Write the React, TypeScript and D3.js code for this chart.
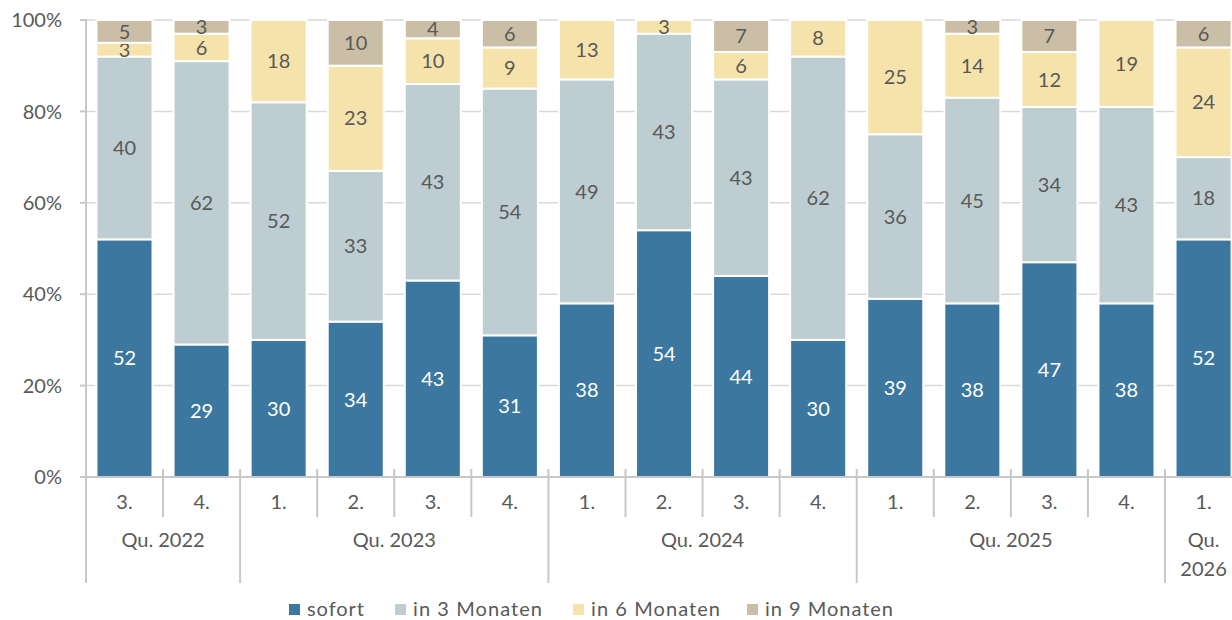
import React from "react";
import * as d3 from "d3";

const quarters = ["3.", "4.", "1.", "2.", "3.", "4.", "1.", "2.", "3.", "4.", "1.", "2.", "3.", "4.", "1."];
const years = ["2022", "2022", "2023", "2023", "2023", "2023", "2024", "2024", "2024", "2024", "2025", "2025", "2025", "2025", "2026"];
const seriesNames = ["sofort", "in 3 Monaten", "in 6 Monaten", "in 9 Monaten"];
const sofort = [52, 29, 30, 34, 43, 31, 38, 54, 44, 30, 39, 38, 47, 38, 52];
const in3 = [40, 62, 52, 33, 43, 54, 49, 43, 43, 62, 36, 45, 34, 43, 18];
const in6 = [3, 6, 18, 23, 10, 9, 13, 3, 6, 8, 25, 14, 12, 19, 24];
const in9 = [5, 3, 0, 10, 4, 6, 0, 0, 7, 0, 0, 3, 7, 0, 6];
const yTicks = [0, 20, 40, 60, 80, 100];
const colors = ["#3c77a0", "#bdcdd2", "#f6e3ab", "#cabfa6"];
const labelColors = ["#ffffff", "#595959", "#595959", "#595959"];

const W = 1232, H = 620;
const left = 86, step = 77.07;
const right = left + step * quarters.length;
const top = 20, bottom = 477;
const font = "Lato, Open Sans, sans-serif";
const txt = "#595959";
const fs = 20;

export default function App() {
  const idx = quarters.map((_, i) => String(i));
  const x = d3.scaleBand<string>().domain(idx).range([left, right]).paddingInner(0.273).paddingOuter(0.136);
  const y = d3.scaleLinear().domain([0, 100]).range([bottom, top]);
  const rows = quarters.map((q, i) => ({ key: String(i), s0: sofort[i], s1: in3[i], s2: in6[i], s3: in9[i] }));
  const stack = d3.stack<any>().keys(["s0", "s1", "s2", "s3"]);
  const layers = stack(rows);

  const groups: { year: string; start: number; end: number }[] = [];
  years.forEach((yr, i) => {
    const g = groups[groups.length - 1];
    if (g && g.year === yr) g.end = i;
    else groups.push({ year: yr, start: i, end: i });
  });
  const bstep = x.step();
  const bandLeft = (i: number) => (x(String(i)) as number) - (bstep - x.bandwidth()) / 2;

  const legendX = [289, 395, 573, 747];
  const legendW = [57, 129, 129, 128];

  return (
    <svg width={W} height={H} style={{ position: "absolute", left: 0, top: 0, background: "#fff" }} fontFamily={font}>
      {yTicks.filter(t => t > 0).map(t => (
        <line key={t} x1={left} x2={W} y1={y(t)} y2={y(t)} stroke="#d9d9d9" strokeWidth={1.5} />
      ))}
      {layers.map((layer, li) => (
        <g key={li}>
          {layer.map((d, i) => {
            const v = d[1] - d[0];
            if (v <= 0) return null;
            const bx = x(String(i)) as number;
            const y0 = y(d[0]), y1 = y(d[1]);
            return (
              <g key={i}>
                <rect x={bx} y={y1} width={x.bandwidth()} height={y0 - y1} fill={colors[li]} stroke="#fff" strokeWidth={2} />
                <text x={bx + x.bandwidth() / 2} y={(y0 + y1) / 2} dy="0.36em" textAnchor="middle" fontSize={fs} fill={labelColors[li]}>
                  {v}
                </text>
              </g>
            );
          })}
        </g>
      ))}
      <line x1={left} x2={left} y1={top - 1} y2={583} stroke="#c8c8c8" strokeWidth={2} />
      {yTicks.map(t => (
        <g key={t}>
          <line x1={left - 6} x2={left} y1={y(t)} y2={y(t)} stroke="#c8c8c8" strokeWidth={2} />
          <text x={62} y={y(t)} dy="0.36em" textAnchor="end" fontSize={fs} fill={txt}>{t}%</text>
        </g>
      ))}
      <line x1={left - 6} x2={W} y1={bottom} y2={bottom} stroke="#c8c8c8" strokeWidth={2} />
      {quarters.map((q, i) => {
        const cx = (x(String(i)) as number) + x.bandwidth() / 2;
        const isGroupStart = i > 0 && years[i] !== years[i - 1];
        const bl = bandLeft(i);
        return (
          <g key={i}>
            {i > 0 && <line x1={bl} x2={bl} y1={bottom - 8} y2={isGroupStart ? 583 : 517} stroke="#c8c8c8" strokeWidth={2} />}
            <text x={cx} y={502} dy="0.36em" textAnchor="middle" fontSize={fs} fill={txt}>{q}</text>
          </g>
        );
      })}
      {groups.map(g => {
        const a = bandLeft(g.start), b = bandLeft(g.end) + bstep;
        const cx = (a + b) / 2;
        const single = g.start === g.end;
        const sc = (x(String(g.start)) as number) + x.bandwidth() / 2;
        return single ? (
          <g key={g.year}>
            <text x={sc} y={540} dy="0.36em" textAnchor="middle" fontSize={fs} fill={txt}>Qu.</text>
            <text x={sc} y={569} dy="0.36em" textAnchor="middle" fontSize={fs} fill={txt}>{g.year}</text>
          </g>
        ) : (
          <text key={g.year} x={cx} y={540} dy="0.36em" textAnchor="middle" fontSize={fs} fill={txt}>Qu. {g.year}</text>
        );
      })}
      {seriesNames.map((n, i) => (
        <g key={n}>
          <rect x={legendX[i]} y={604} width={11} height={11} fill={colors[i]} />
          <text x={legendX[i] + 18} y={609} dy="0.36em" fontSize={fs} fill={txt} textLength={legendW[i]} lengthAdjust="spacing">{n}</text>
        </g>
      ))}
    </svg>
  );
}
